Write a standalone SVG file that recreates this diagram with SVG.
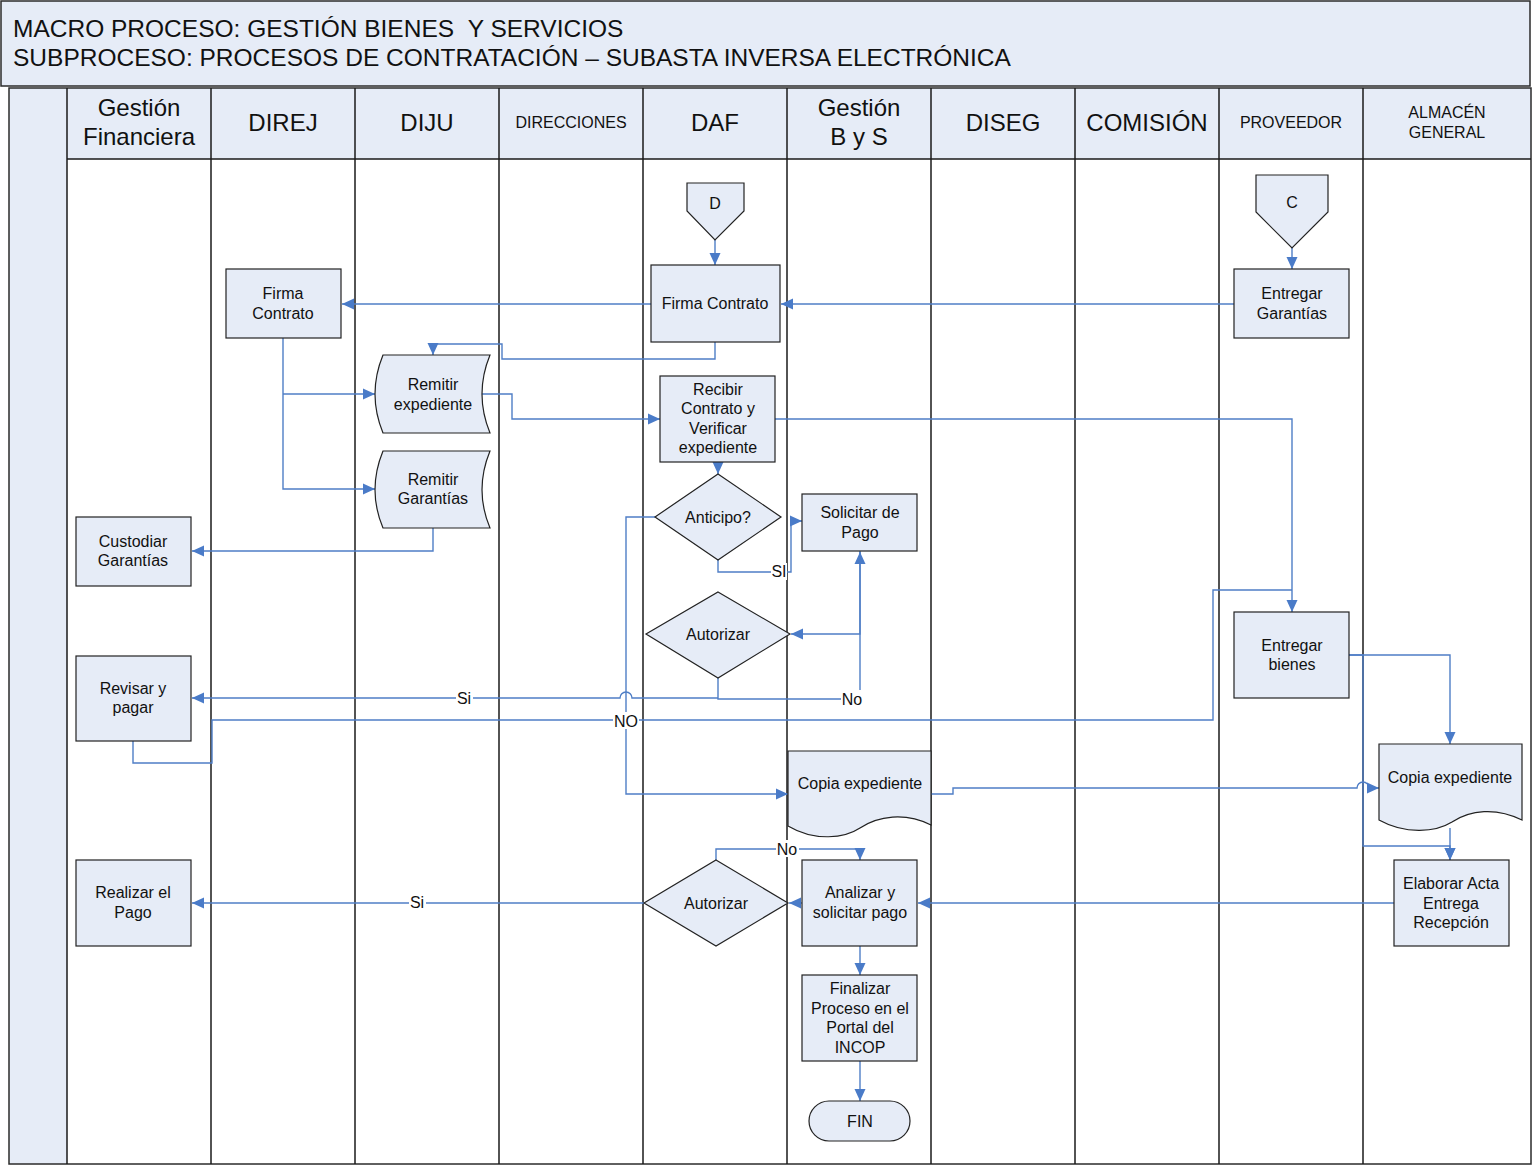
<svg xmlns="http://www.w3.org/2000/svg" width="1535" height="1168" viewBox="0 0 1535 1168">
  <style>
    .bg { fill: #E6ECF7; }
    .frame { fill: none; stroke: #2b2b2b; stroke-width: 1.5; }
    .lane { stroke: #1a1a1a; stroke-width: 1.5; }
    .title { font-family: "Liberation Sans", Arial, sans-serif; font-size: 24.5px; fill: #111; }
    .hd { font-family: "Liberation Sans", Arial, sans-serif; font-size: 24px; fill: #111; text-anchor: middle; }
    .hds { font-family: "Liberation Sans", Arial, sans-serif; font-size: 16px; fill: #111; text-anchor: middle; }
    .shape { fill: #E6ECF7; stroke: #222; stroke-width: 1.2; }
    .t { font-family: "Liberation Sans", Arial, sans-serif; font-size: 16px; fill: #111; text-anchor: middle; }
    .c { fill: none; stroke: #4F7EC6; stroke-width: 1.4; }
    .ca { fill: none; stroke: #4F7EC6; stroke-width: 1.4; marker-end: url(#arr); }
    .lbl { font-family: "Liberation Sans", Arial, sans-serif; font-size: 16px; fill: #111; text-anchor: middle; }
    .lblbg { fill: #fff; }
  </style>
  <defs>
    <marker id="arr" markerUnits="userSpaceOnUse" markerWidth="14" markerHeight="14" refX="12" refY="7" orient="auto">
      <path d="M0,1.5 L12,7 L0,12.5 Z" fill="#4A7BC8"/>
    </marker>
  </defs>

  <!-- title block -->
  <g id="title">
    <rect x="1" y="1" width="1529" height="85" class="bg"/>
    <rect x="1" y="1" width="1529" height="85" class="frame"/>
    <text x="13" y="37" class="title">MACRO PROCESO: GESTIÓN BIENES &#160;Y SERVICIOS</text>
    <text x="13" y="66" class="title">SUBPROCESO: PROCESOS DE CONTRATACIÓN – SUBASTA INVERSA ELECTRÓNICA</text>
  </g>

  <!-- swimlanes -->
  <g id="lanes">
    <rect x="9" y="88" width="1522" height="1076" fill="#fff"/>
    <rect x="9" y="88" width="1522" height="71" class="bg"/>
    <rect x="9" y="88" width="58" height="1076" class="bg"/>
    <rect x="9" y="88" width="1522" height="1076" class="frame"/>
    <line x1="67" y1="159" x2="1531" y2="159" class="lane"/>
    <line x1="67" y1="88" x2="67" y2="1164" class="lane"/>
    <line x1="211" y1="88" x2="211" y2="1164" class="lane"/>
    <line x1="355" y1="88" x2="355" y2="1164" class="lane"/>
    <line x1="499" y1="88" x2="499" y2="1164" class="lane"/>
    <line x1="643" y1="88" x2="643" y2="1164" class="lane"/>
    <line x1="787" y1="88" x2="787" y2="1164" class="lane"/>
    <line x1="931" y1="88" x2="931" y2="1164" class="lane"/>
    <line x1="1075" y1="88" x2="1075" y2="1164" class="lane"/>
    <line x1="1219" y1="88" x2="1219" y2="1164" class="lane"/>
    <line x1="1363" y1="88" x2="1363" y2="1164" class="lane"/>
    <text x="139" y="116" class="hd">Gestión</text>
    <text x="139" y="145" class="hd">Financiera</text>
    <text x="283" y="131" class="hd">DIREJ</text>
    <text x="427" y="131" class="hd">DIJU</text>
    <text x="571" y="128" class="hds">DIRECCIONES</text>
    <text x="715" y="131" class="hd">DAF</text>
    <text x="859" y="116" class="hd">Gestión</text>
    <text x="859" y="145" class="hd">B y S</text>
    <text x="1003" y="131" class="hd">DISEG</text>
    <text x="1147" y="131" class="hd">COMISIÓN</text>
    <text x="1291" y="128" class="hds">PROVEEDOR</text>
    <text x="1447" y="118" class="hds">ALMACÉN</text>
    <text x="1447" y="138" class="hds">GENERAL</text>
  </g>

  <!-- connectors -->
  <g id="connectors">
    <path d="M715,240 V265" class="ca"/>
    <path d="M1292,248 V269" class="ca"/>
    <path d="M1234,304 H781" class="ca"/>
    <path d="M651,304 H342" class="ca"/>
    <path d="M715,342 V359 H502 V344 H433 V355" class="ca"/>
    <path d="M283,338 V489 H375" class="ca"/>
    <path d="M283,394 H375" class="ca"/>
    <path d="M482,394 H512 V419 H660" class="ca"/>
    <path d="M775,419 H1292 V612" class="ca"/>
    <path d="M718,462 V474" class="ca"/>
    <path d="M433,528 V551 H192" class="ca"/>
    <path d="M718,560 V572 H791 V521 H802" class="ca"/>
    <path d="M860,551 V634 H791" class="ca"/>
    <path d="M718,678 V699 H860 V552" class="ca"/>
    <path d="M718,698 H632 A6,6 0 0 0 620,698 H192" class="ca"/>
    <path d="M655,517 H626 V794 H788" class="ca"/>
    <path d="M133,741 V763 H212 V720 H1213 V590 H1292" class="c"/>
    <path d="M1349,655 H1450 V744" class="ca"/>
    <path d="M1349,655 H1363 V846 H1450 V860" class="ca"/>
    <path d="M1450,828 V860" class="ca"/>
    <path d="M931,794 H953 V788 H1357 A6,6 0 0 1 1369,788 H1379" class="ca"/>
    <path d="M1394,903 H918" class="ca"/>
    <path d="M802,903 H789" class="ca"/>
    <path d="M716,860 V849 H860 V860" class="ca"/>
    <path d="M644,903 H192" class="ca"/>
    <path d="M860,946 V975" class="ca"/>
    <path d="M860,1061 V1101" class="ca"/>

    <rect x="456" y="690" width="17" height="17" class="lblbg"/>
    <text x="464" y="704" class="lbl">Si</text>
    <rect x="771" y="563" width="16" height="17" class="lblbg"/>
    <text x="779" y="577" class="lbl">SI</text>
    <rect x="841" y="690" width="23" height="17" class="lblbg"/>
    <text x="852" y="705" class="lbl">No</text>
    <rect x="613" y="712" width="26" height="17" class="lblbg"/>
    <text x="626" y="727" class="lbl">NO</text>
    <rect x="776" y="840" width="23" height="17" class="lblbg"/>
    <text x="787" y="855" class="lbl">No</text>
    <rect x="409" y="894" width="17" height="17" class="lblbg"/>
    <text x="417" y="908" class="lbl">Si</text>
  </g>

  <!-- nodes -->
  <g id="off-page-d">
    <polygon points="687,183 744,183 744,211 715,240 687,211" class="shape"/>
    <text x="715" y="209" class="t">D</text>
  </g>
  <g id="off-page-c">
    <polygon points="1256,175 1328,175 1328,212 1292,248 1256,212" class="shape"/>
    <text x="1292" y="208" class="t">C</text>
  </g>
  <g id="firma-contrato-daf">
    <rect x="651" y="265" width="129" height="77" class="shape"/>
    <text x="715" y="309" class="t">Firma Contrato</text>
  </g>
  <g id="entregar-garantias">
    <rect x="1234" y="269" width="115" height="69" class="shape"/>
    <text x="1292" y="299" class="t">Entregar</text>
    <text x="1292" y="319" class="t">Garantías</text>
  </g>
  <g id="firma-contrato-direj">
    <rect x="226" y="269" width="115" height="69" class="shape"/>
    <text x="283" y="299" class="t">Firma</text>
    <text x="283" y="319" class="t">Contrato</text>
  </g>
  <g id="remitir-expediente">
    <path d="M383,355 H490 Q474,394 490,433 H383 Q367,394 383,355 Z" class="shape"/>
    <text x="433" y="390" class="t">Remitir</text>
    <text x="433" y="410" class="t">expediente</text>
  </g>
  <g id="remitir-garantias">
    <path d="M383,451 H490 Q474,490 490,528 H383 Q367,490 383,451 Z" class="shape"/>
    <text x="433" y="485" class="t">Remitir</text>
    <text x="433" y="504" class="t">Garantías</text>
  </g>
  <g id="recibir-contrato">
    <rect x="660" y="376" width="115" height="86" class="shape"/>
    <text x="718" y="395" class="t">Recibir</text>
    <text x="718" y="414" class="t">Contrato y</text>
    <text x="718" y="434" class="t">Verificar</text>
    <text x="718" y="453" class="t">expediente</text>
  </g>
  <g id="anticipo">
    <polygon points="718,474 781,517 718,560 655,517" class="shape"/>
    <text x="718" y="523" class="t">Anticipo?</text>
  </g>
  <g id="solicitar-pago">
    <rect x="802" y="494" width="115" height="57" class="shape"/>
    <text x="860" y="518" class="t">Solicitar de</text>
    <text x="860" y="538" class="t">Pago</text>
  </g>
  <g id="autorizar-anticipo">
    <polygon points="718,592 790,634 718,678 646,634" class="shape"/>
    <text x="718" y="640" class="t">Autorizar</text>
  </g>
  <g id="custodiar-garantias">
    <rect x="76" y="517" width="115" height="69" class="shape"/>
    <text x="133" y="547" class="t">Custodiar</text>
    <text x="133" y="566" class="t">Garantías</text>
  </g>
  <g id="revisar-pagar">
    <rect x="76" y="656" width="115" height="85" class="shape"/>
    <text x="133" y="694" class="t">Revisar y</text>
    <text x="133" y="713" class="t">pagar</text>
  </g>
  <g id="entregar-bienes">
    <rect x="1234" y="612" width="115" height="86" class="shape"/>
    <text x="1292" y="651" class="t">Entregar</text>
    <text x="1292" y="670" class="t">bienes</text>
  </g>
  <g id="copia-expediente-bys">
    <path d="M788,751 H931 V825 C905,812 878,816 860,828 C845,838 815,842 788,826 Z" class="shape"/>
    <text x="860" y="789" class="t">Copia expediente</text>
  </g>
  <g id="copia-expediente-almacen">
    <path d="M1379,744 H1522 V820 C1496,807 1470,810 1452,822 C1436,832 1406,835 1379,820 Z" class="shape"/>
    <text x="1450" y="783" class="t">Copia expediente</text>
  </g>
  <g id="elaborar-acta">
    <rect x="1394" y="860" width="115" height="86" class="shape"/>
    <text x="1451" y="889" class="t">Elaborar Acta</text>
    <text x="1451" y="909" class="t">Entrega</text>
    <text x="1451" y="928" class="t">Recepción</text>
  </g>
  <g id="analizar-solicitar">
    <rect x="802" y="860" width="115" height="86" class="shape"/>
    <text x="860" y="898" class="t">Analizar y</text>
    <text x="860" y="918" class="t">solicitar pago</text>
  </g>
  <g id="autorizar-pago">
    <polygon points="716,860 788,903 716,946 644,903" class="shape"/>
    <text x="716" y="909" class="t">Autorizar</text>
  </g>
  <g id="realizar-pago">
    <rect x="76" y="860" width="115" height="86" class="shape"/>
    <text x="133" y="898" class="t">Realizar el</text>
    <text x="133" y="918" class="t">Pago</text>
  </g>
  <g id="finalizar-proceso">
    <rect x="802" y="975" width="115" height="86" class="shape"/>
    <text x="860" y="994" class="t">Finalizar</text>
    <text x="860" y="1014" class="t">Proceso en el</text>
    <text x="860" y="1033" class="t">Portal del</text>
    <text x="860" y="1053" class="t">INCOP</text>
  </g>
  <g id="fin">
    <rect x="809" y="1101" width="101" height="40" rx="20" ry="20" class="shape"/>
    <text x="860" y="1127" class="t">FIN</text>
  </g>
</svg>
